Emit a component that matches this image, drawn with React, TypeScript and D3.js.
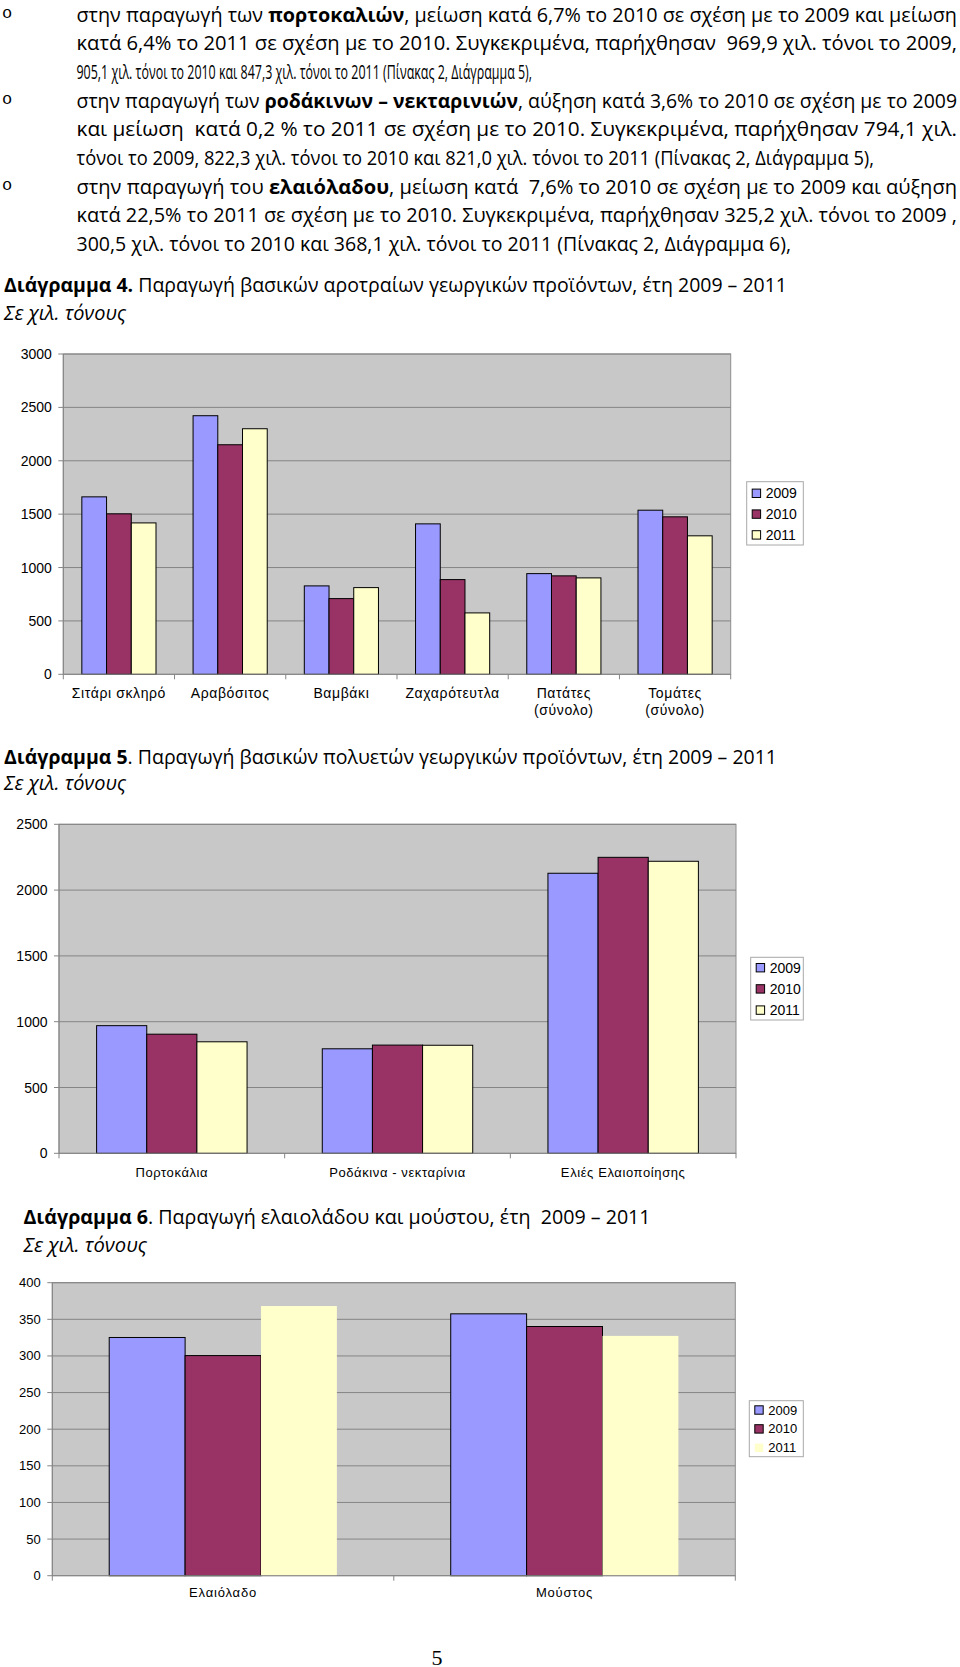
import * as d3 from "d3";

// ---- data ----
const years = ["2009", "2010", "2011"];
const yearColors = ["#9999FF", "#993366", "#FFFFCC"];

// Διάγραμμα 4
const crops4 = ["Σιτάρι σκληρό", "Αραβόσιτος", "Βαμβάκι", "Ζαχαρότευτλα", "Πατάτες (σύνολο)", "Τομάτες (σύνολο)"];
const crops4Labels = [["Σιτάρι σκληρό"], ["Αραβόσιτος"], ["Βαμβάκι"], ["Ζαχαρότευτλα"], ["Πατάτες", "(σύνολο)"], ["Τομάτες", "(σύνολο)"]];
const crops4_2009 = [1662, 2422, 828, 1409, 943, 1537];
const crops4_2010 = [1503, 2150, 709, 887, 922, 1475];
const crops4_2011 = [1418, 2300, 812, 575, 903, 1297];
const ticks4 = [0, 500, 1000, 1500, 2000, 2500, 3000];

// Διάγραμμα 5
const crops5 = ["Πορτοκάλια", "Ροδάκινα - νεκταρίνια", "Ελιές Ελαιοποίησης"];
const crops5_2009 = [969.9, 794.1, 2128];
const crops5_2010 = [905.1, 822.3, 2249];
const crops5_2011 = [847.3, 821.0, 2219];
const ticks5 = [0, 500, 1000, 1500, 2000, 2500];

// Διάγραμμα 6
const crops6 = ["Ελαιόλαδο", "Μούστος"];
const crops6_2009 = [325.2, 357.5];
const crops6_2010 = [300.5, 340.2];
const crops6_2011 = [368.1, 327.4];
const ticks6 = [0, 50, 100, 150, 200, 250, 300, 350, 400];

// ---- text ----
type Seg = { t: string; b?: boolean };
type Line = { segs: Seg[]; end: number; bullet?: boolean };

const paraLines: Line[] = [
  { bullet: true, end: 957, segs: [{ t: "στην παραγωγή των " }, { t: "πορτοκαλιών", b: true }, { t: ", μείωση κατά 6,7% το 2010 σε σχέση με το 2009 και μείωση" }] },
  { end: 957, segs: [{ t: "κατά 6,4% το 2011 σε σχέση με το 2010. Συγκεκριμένα, παρήχθησαν  969,9 χιλ. τόνοι το 2009," }] },
  { end: 532, segs: [{ t: "905,1 χιλ. τόνοι το 2010 και 847,3 χιλ. τόνοι το 2011 (Πίνακας 2, Διάγραμμα 5)," }] },
  { bullet: true, end: 957, segs: [{ t: "στην παραγωγή των " }, { t: "ροδάκινων – νεκταρινιών", b: true }, { t: ", αύξηση κατά 3,6% το 2010 σε σχέση με το 2009" }] },
  { end: 957, segs: [{ t: "και μείωση  κατά 0,2 % το 2011 σε σχέση με το 2010. Συγκεκριμένα, παρήχθησαν 794,1 χιλ." }] },
  { end: 874, segs: [{ t: "τόνοι το 2009, 822,3 χιλ. τόνοι το 2010 και 821,0 χιλ. τόνοι το 2011 (Πίνακας 2, Διάγραμμα 5)," }] },
  { bullet: true, end: 957, segs: [{ t: "στην παραγωγή του " }, { t: "ελαιόλαδου", b: true }, { t: ", μείωση κατά  7,6% το 2010 σε σχέση με το 2009 και αύξηση" }] },
  { end: 957, segs: [{ t: "κατά 22,5% το 2011 σε σχέση με το 2010. Συγκεκριμένα, παρήχθησαν 325,2 χιλ. τόνοι το 2009 ," }] },
  { end: 791, segs: [{ t: "300,5 χιλ. τόνοι το 2010 και 368,1 χιλ. τόνοι το 2011 (Πίνακας 2, Διάγραμμα 6)," }] },
];

const textFont = "'Open Sans', 'Noto Sans', sans-serif";
const chartFont = "'Liberation Sans', Arial, sans-serif";

type Box = { left: number; right: number; top: number; bottom: number };
type Legend = { x: number; y: number; w: number; h: number; first: number; step: number; font: number };

function GroupedBars(props: {
  cats: string[];
  labels: string[][];
  series: number[][];
  ticks: number[];
  box: Box;
  legend: Legend;
  labelY: number;
  labelFont: number;
  labelSpacing: number;
  tickFont: number;
  noStroke?: boolean[];
}) {
  const { cats, labels, series, ticks, box, legend, labelY, labelFont, labelSpacing, tickFont, noStroke } = props;
  const x = d3.scaleBand<string>().domain(cats).range([box.left, box.right]).padding(0);
  const w = x.bandwidth();
  // excel style: gap between groups = 1.5 bar widths
  const xs = d3.scaleBand<string>().domain(years).range([w / 6, (w * 5) / 6]).padding(0);
  const y = d3.scaleLinear().domain([0, d3.max(ticks) as number]).range([box.bottom, box.top]);
  const grid = "#858585";

  return (
    <g>
      <rect x={box.left} y={box.top} width={box.right - box.left} height={box.bottom - box.top} fill="#C8C8C8" stroke="#8E8E8E" />
      {ticks.filter((t) => t > 0).map((t) => (
        <line key={t} x1={box.left} x2={box.right} y1={y(t)} y2={y(t)} stroke={grid} />
      ))}
      {cats.map((c, i) =>
        series.map((s, j) => (
          <rect
            key={c + j}
            x={(x(c) as number) + (xs(years[j]) as number)}
            y={y(s[i])}
            width={xs.bandwidth()}
            height={box.bottom - y(s[i])}
            fill={yearColors[j]}
            stroke={noStroke && noStroke[j] ? "none" : "#000"}
            strokeWidth={1}
          />
        ))
      )}
      <line x1={box.left} x2={box.left} y1={box.top} y2={box.bottom} stroke={grid} />
      <line x1={box.left} x2={box.right} y1={box.bottom} y2={box.bottom} stroke={grid} />
      {ticks.map((t) => (
        <g key={"t" + t}>
          <line x1={box.left - 5} x2={box.left} y1={y(t)} y2={y(t)} stroke={grid} />
          <text x={box.left - 11.5} y={y(t)} textAnchor="end" dominantBaseline="central" fontFamily={chartFont} fontSize={tickFont}>
            {t}
          </text>
        </g>
      ))}
      {d3.range(cats.length + 1).map((k) => (
        <line key={"b" + k} x1={box.left + k * w} x2={box.left + k * w} y1={box.bottom} y2={box.bottom + 5} stroke={grid} />
      ))}
      {cats.map((c, i) =>
        labels[i].map((l, k) => (
          <text
            key={c + k}
            x={(x(c) as number) + w / 2}
            y={labelY + k * 17}
            textAnchor="middle"
            dominantBaseline="central"
            fontFamily={chartFont}
            fontSize={labelFont}
            letterSpacing={labelSpacing}
          >
            {l}
          </text>
        ))
      )}
      <rect x={legend.x} y={legend.y} width={legend.w} height={legend.h} fill="#fff" stroke="#A8A8A8" />
      {years.map((yr, j) => (
        <g key={yr}>
          <rect
            x={legend.x + 5.5}
            y={legend.first + j * legend.step - 4.2}
            width={8.4}
            height={8.4}
            fill={yearColors[j]}
            stroke={noStroke && noStroke[j] ? "none" : "#000"}
          />
          <text x={legend.x + 19} y={legend.first + j * legend.step} dominantBaseline="central" fontFamily={chartFont} fontSize={legend.font}>
            {yr}
          </text>
        </g>
      ))}
    </g>
  );
}

function Heading({ y, x, num, rest, end, italicEnd, italicY }: { y: number; x: number; num: string; rest: string; end: number; italicEnd: number; italicY: number }) {
  return (
    <g fontFamily={textFont} fontSize={20}>
      <text x={x} y={y} dominantBaseline="central" textLength={end - x} lengthAdjust="spacingAndGlyphs" style={{ whiteSpace: "pre" }}>
        <tspan fontWeight="bold">{num}</tspan>
        {rest}
      </text>
      <text x={x} y={italicY} dominantBaseline="central" fontStyle="italic" textLength={italicEnd - x} lengthAdjust="spacingAndGlyphs">
        Σε χιλ. τόνους
      </text>
    </g>
  );
}

export default function App() {
  const lineY0 = 13.5;
  const lineStep = 28.7;
  return (
    <div style={{ position: "absolute", left: 0, top: 0 }}>
      <svg width={960} height={1667} viewBox="0 0 960 1667" style={{ display: "block", background: "#fff" }}>
        {paraLines.map((ln, i) => (
          <g key={i}>
            {ln.bullet && (
              <text x={7} y={lineY0 + i * lineStep} textAnchor="middle" dominantBaseline="central" fontFamily="'Liberation Mono', monospace" fontSize={17}>
                o
              </text>
            )}
            <text
              x={76.5}
              y={lineY0 + i * lineStep}
              dominantBaseline="central"
              fontFamily={textFont}
              fontSize={20}
              textLength={ln.end - 76.5}
              lengthAdjust="spacingAndGlyphs"
              style={{ whiteSpace: "pre" }}
            >
              {ln.segs.map((s, k) => (
                <tspan key={k} fontWeight={s.b ? "bold" : "normal"}>
                  {s.t}
                </tspan>
              ))}
            </text>
          </g>
        ))}

        <Heading x={4} y={284} italicY={312.5} num="Διάγραμμα 4." rest=" Παραγωγή βασικών αροτραίων γεωργικών προϊόντων, έτη 2009 – 2011" end={787} italicEnd={126} />
        <GroupedBars
          cats={crops4}
          labels={crops4Labels}
          series={[crops4_2009, crops4_2010, crops4_2011]}
          ticks={ticks4}
          box={{ left: 63.3, right: 730.7, top: 354, bottom: 674.3 }}
          legend={{ x: 746.7, y: 481.7, w: 56.6, h: 63.3, first: 493.3, step: 20.8, font: 14 }}
          labelY={693.3}
          labelFont={14}
          labelSpacing={0.6}
          tickFont={14}
        />

        <Heading x={4} y={756} italicY={782.5} num="Διάγραμμα 5" rest=". Παραγωγή βασικών πολυετών γεωργικών προϊόντων, έτη 2009 – 2011" end={777} italicEnd={126} />
        <GroupedBars
          cats={crops5}
          labels={crops5.map((c) => [c])}
          series={[crops5_2009, crops5_2010, crops5_2011]}
          ticks={ticks5}
          box={{ left: 59, right: 736, top: 824.3, bottom: 1153.3 }}
          legend={{ x: 750.7, y: 957.3, w: 52.6, h: 62.7, first: 967.7, step: 21.2, font: 14 }}
          labelY={1172.3}
          labelFont={13}
          labelSpacing={0.6}
          tickFont={14}
        />

        <Heading x={23.4} y={1216} italicY={1244} num="Διάγραμμα 6" rest=". Παραγωγή ελαιολάδου και μούστου, έτη  2009 – 2011" end={650.6} italicEnd={147} />
        <GroupedBars
          cats={crops6}
          labels={crops6.map((c) => [c])}
          series={[crops6_2009, crops6_2010, crops6_2011]}
          ticks={ticks6}
          box={{ left: 52.3, right: 735.3, top: 1282.7, bottom: 1575.7 }}
          legend={{ x: 749.3, y: 1400.7, w: 54, h: 56, first: 1410, step: 18.9, font: 13 }}
          labelY={1592.7}
          labelFont={13}
          labelSpacing={0.8}
          tickFont={13}
          noStroke={[false, false, true]}
        />

        <text x={437} y={1657} textAnchor="middle" dominantBaseline="central" fontFamily="'Liberation Serif', 'Times New Roman', serif" fontSize={22}>
          5
        </text>
      </svg>
    </div>
  );
}
